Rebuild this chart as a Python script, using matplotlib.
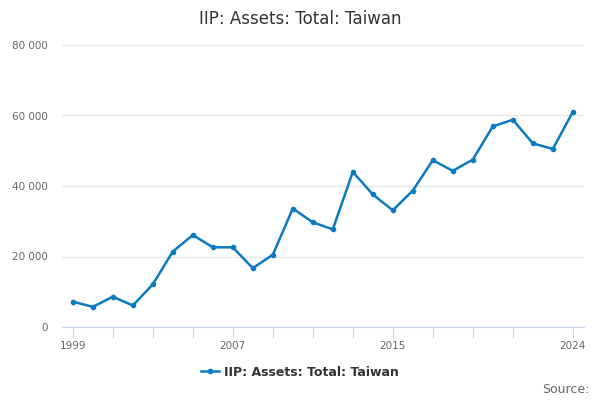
import matplotlib.pyplot as plt
from matplotlib.ticker import FuncFormatter

years = list(range(1999, 2025))
assets = [7200, 5700, 8600, 6100, 12100, 21400, 26100, 22600, 22600, 16700,
          20500, 33600, 29700, 27700, 44000, 37600, 33100, 38700, 47300, 44300,
          47500, 56900, 58800, 52100, 50500, 61000]
tick_years = list(range(1999, 2022, 2)) + [2024]
label_years = [1999, 2007, 2015, 2024]
series_name = "IIP: Assets: Total: Taiwan"

line_color = "#0b7bc1"
grid_color = "#e6e6e6"
axis_color = "#ccd6eb"

fig = plt.figure(figsize=(6, 4), dpi=100)
ax = fig.add_axes([0.103, 0.1825, 0.87, 0.705])

ax.plot(years, assets, color=line_color, linewidth=1.8, marker="o", markersize=3,
        label=series_name)

ax.set_xlim(1998.45, 2024.55)
ax.set_ylim(0, 80000)
ax.set_yticks([0, 20000, 40000, 60000, 80000])
ax.yaxis.set_major_formatter(FuncFormatter(lambda v, p: f"{int(v):,}".replace(",", " ")))
ax.set_xticks(tick_years)
ax.set_xticklabels([str(y) if y in label_years else "" for y in tick_years])

ax.grid(axis="y", color=grid_color, linewidth=1)
ax.set_axisbelow(True)
for s in ["top", "right", "left"]:
    ax.spines[s].set_visible(False)
ax.spines["bottom"].set_color(axis_color)
ax.tick_params(axis="y", length=0, labelsize=7.5, labelcolor="#666666", pad=10)
ax.tick_params(axis="x", length=8, color=axis_color, labelsize=7.5,
               labelcolor="#666666", pad=2)

fig.suptitle(series_name, x=0.5, y=0.975, fontsize=12, color="#333333")

leg = fig.legend(loc="lower center", bbox_to_anchor=(0.5, 0.025), frameon=False,
                 prop={"weight": "bold", "size": 9}, handlelength=1.5,
                 handletextpad=0.4)
for t in leg.get_texts():
    t.set_color("#333333")

fig.text(0.982, 0.01, "Source:", ha="right", va="bottom", fontsize=9, color="#666666")

fig.savefig("out.png", dpi=100)
